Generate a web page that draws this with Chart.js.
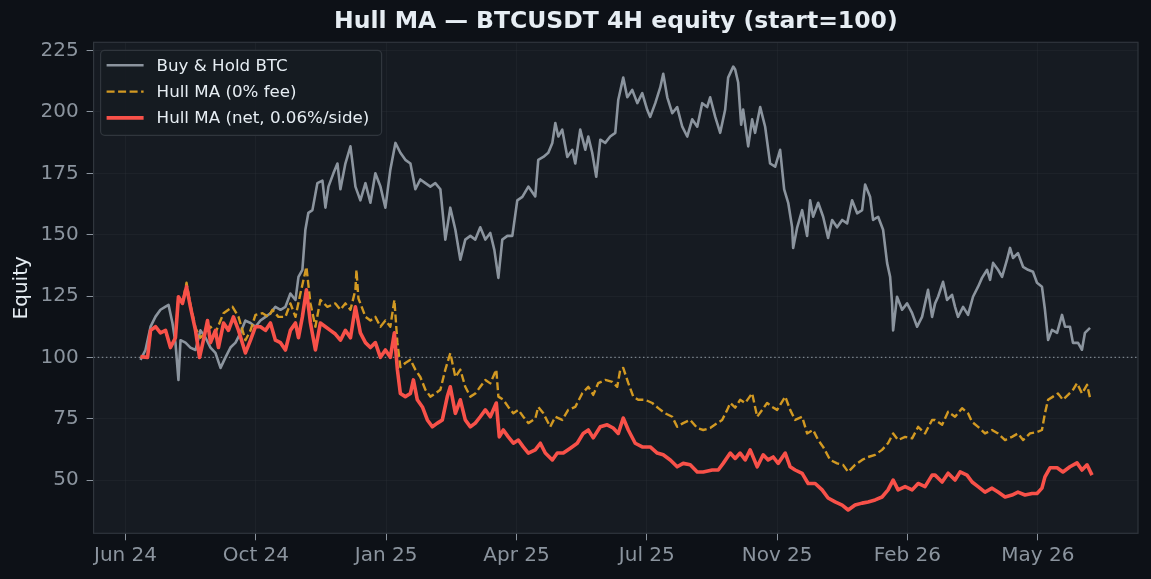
<!DOCTYPE html>
<html>
<head>
<meta charset="utf-8">
<script src="https://cdn.jsdelivr.net/npm/chart.js@4.4.1/dist/chart.umd.min.js"></script>
<style>
  html, body { margin: 0; padding: 0; background: #0d1117; }
  #wrap { width: 1151px; height: 579px; }
</style>
</head>
<body>
<div id="wrap"><canvas id="eq"></canvas></div>
<script>
// days counted from the "Jun 24" tick
const tickDays = [0, 100, 200, 300, 400, 500, 600, 700];
const tickLabels = ["Jun 24", "Oct 24", "Jan 25", "Apr 25", "Jul 25", "Nov 25", "Feb 26", "May 26"];
const yTicks = [50, 75, 100, 125, 150, 175, 200, 225];
const baseline = 100;

const btcDays = [11.5,15.3,19.2,23.0,26.8,30.7,33.0,36.0,38.3,40.6,42.2,46.0,49.8,53.7,57.5,61.4,65.2,69.0,72.9,76.7,80.5,84.4,88.2,92.0,95.9,99.7,103.5,107.4,111.2,115.0,118.9,122.7,126.5,130.4,132.7,135.7,138.0,140.3,143.4,147.2,151.1,153.4,155.7,159.5,162.6,164.9,168.7,172.6,176.4,180.2,184.1,187.9,191.7,195.6,199.4,203.2,207.1,210.9,214.7,218.6,222.4,226.2,230.1,233.9,237.7,241.6,245.4,249.2,253.1,256.9,260.7,264.6,268.4,272.2,276.1,279.9,283.0,286.1,289.1,293.0,296.8,300.6,304.5,309.1,314.4,316.7,320.6,324.4,327.5,329.8,332.1,335.1,339.0,342.8,345.1,348.9,352.8,355.1,358.1,361.2,364.3,368.1,371.9,375.8,378.1,381.9,385.0,388.8,392.7,396.5,400.3,402.6,406.5,410.3,412.6,415.7,419.5,423.3,427.2,431.0,434.8,438.7,442.5,446.3,448.6,452.5,456.3,460.1,462.4,466.3,467.8,470.1,472.4,473.9,477.8,480.8,483.1,487.0,490.8,494.6,498.5,502.3,505.4,508.5,511.5,512.3,515.4,519.2,523.0,525.3,527.6,531.5,535.3,539.1,542.2,546.0,549.9,553.7,557.5,561.4,565.2,567.5,571.3,573.6,577.5,581.3,584.4,586.7,588.2,589.0,592.0,595.9,599.7,603.6,607.4,611.2,615.8,618.9,621.2,623.5,627.3,630.4,634.2,636.5,638.8,642.7,646.5,650.3,654.2,657.2,661.1,663.4,665.7,669.5,672.6,676.4,678.7,681.0,684.8,688.7,692.5,696.3,699.4,703.2,705.5,707.9,710.9,714.8,718.6,720.9,724.7,727.0,730.9,733.9,736.2,740.1];
const btcEquity = [99,103,112.5,116.6,119.4,120.7,121.4,114,106,90.8,107,106,104,103,111,108,104,101.8,95.7,100,104,106,110,115,114,112.5,115,116.5,118,120.6,119.4,120.6,126,123.4,132.8,135.7,152,158.9,160,171,172,161,169.6,175,179,168.5,179,186,169.6,164,171,163,175,169.6,161,176.5,187.4,183.4,180.5,179,168.5,172.5,171,169.6,171,168.5,148,161,152,139.8,148,149.5,148,153,148,150.7,143.8,132.4,148,149.5,149.5,164,165.4,169.6,165.6,180.5,181.7,183.4,187.4,195.5,190,192.8,181.7,184.6,179,192.8,184.6,190,183.4,173.6,188.7,187.4,190,191.5,205,214,206,209,203.6,207.7,200.9,198,203.6,210,215.6,206,199.5,202,194,190,197,194,203.6,202,206,198,191.5,200.9,214,218.5,217.3,212,194.8,201,186,197,191.5,202,194,179,177.7,184.6,168.5,163,153,144.6,153,160,149.5,164,157.3,163,157.3,148.7,156,153,156,154.6,164,158.7,160,170.4,165.5,156,157.3,152,138.4,132.8,122,111,124.7,119.4,122,118,112.5,116.5,127.5,116.5,122,124.7,130.8,123.4,125.5,120.6,116.5,120.6,117.3,124.7,128.8,132.4,135.7,131.6,138.5,135.7,132.8,139.8,144.6,140.5,142.5,136.9,135.7,134.9,130.4,128.8,119.4,107.1,111.2,110,117.3,112.5,112.5,105.9,105.9,103.1,110,112];

const hullDays = [11.5,16.9,19.2,23.0,26.8,30.7,34.5,38.3,40.6,43.7,46.8,49.8,53.7,57.5,61.4,65.2,69.0,75.2,82.1,86.7,92.0,95.9,99.7,105.1,109.7,112.7,117.3,122.7,126.5,130.4,134.2,138.8,141.9,145.7,149.5,154.9,161.0,164.9,168.7,172.6,176.4,177.2,178.7,180.2,184.1,187.9,191.7,195.6,199.4,203.2,206.3,208.6,210.9,214.7,218.6,222.4,226.2,230.1,233.9,237.7,241.6,245.4,249.2,253.1,256.9,260.7,264.6,268.4,272.2,276.1,279.9,284.5,286.1,289.9,293.7,297.6,301.4,305.2,309.1,314.4,316.7,320.6,325.9,329.8,335.1,339.7,345.1,350.5,355.1,358.9,362.7,368.1,373.5,377.3,379.6,381.9,385.8,389.6,393.4,398.8,404.2,408.8,414.1,419.5,423.3,427.9,433.3,438.7,443.3,448.6,454.0,457.8,461.7,464.0,467.8,471.6,475.5,480.8,484.7,488.5,492.3,496.2,500.0,506.2,510.0,513.8,519.2,523.0,527.6,531.5,535.3,540.7,546.0,550.6,554.5,559.8,565.2,569.8,575.2,580.5,585.1,589.0,592.8,598.2,603.6,608.2,613.5,618.9,621.2,626.6,631.2,636.5,641.9,646.5,649.6,654.2,659.5,664.9,669.5,674.9,680.2,684.8,688.7,694.0,699.4,703.2,705.5,707.9,711.7,715.5,719.3,723.2,727.0,730.1,733.9,737.8,740.1];
const hullEquity = [100.3,100,111,112.5,110,111,104,108,124.7,122,130.4,121.5,112,108,110,112.5,110,118,120.6,116.5,107,111,117.3,118,116.5,119.4,116.5,116.5,122,116.5,126,136.9,122,112.5,123.4,120.6,122,119.4,122,119.4,127.5,135.7,124,122,116.5,115,116.5,112.5,115,112.5,123.4,106,96,97.7,99,95,92,86.8,84,85.3,86.8,95,101.7,92,95,88,84,85.3,88,90.8,89.4,95,84,82.7,79.8,77.2,78.6,75.8,73.2,75,79.8,77.2,71.7,75.8,74.5,78.6,79.8,85.4,88,84.7,89.5,90.8,90,88,95,95.7,89.5,84,82.7,82.7,81.4,79.3,77.2,75.8,71.7,73.2,74.5,71.2,70.4,71.2,73.2,74.5,78.6,81.4,79.5,82.7,81.4,85.4,75.8,78.6,81.4,79.8,78.6,84,78.6,74.5,75.8,69,70.4,66.3,63.5,58.2,56.8,56.2,53.3,56.2,58.2,59.4,60.3,62.3,65,69,66.3,67.6,67,71.7,69,74.5,74.5,72.5,77.8,75.8,79.3,77.2,73.7,71.7,69,70.4,69,66.3,67.6,69,66.3,69,69.6,70.4,77.2,82.7,84,85.3,82.7,84.7,86.8,89.5,85.3,88.8,83.5];

const netDays = [11.5,16.9,19.2,23.0,26.8,30.7,34.5,38.3,40.6,43.7,46.8,49.8,53.7,56.8,59.8,62.9,65.2,69.0,71.3,75.2,79.0,82.8,86.7,92.0,95.9,99.7,103.5,107.4,111.2,115.0,118.9,122.7,126.5,130.4,132.7,135.7,138.8,141.9,145.7,149.5,153.4,157.2,161.0,164.9,168.7,172.6,176.4,180.2,184.1,187.9,191.7,195.6,199.4,203.2,206.3,208.6,210.9,214.7,218.6,220.9,223.9,227.8,231.6,235.4,239.3,243.1,246.9,249.2,253.1,256.9,260.7,264.6,268.4,272.2,276.1,279.9,284.5,286.8,289.9,293.7,297.6,301.4,305.2,309.1,314.4,318.3,322.1,327.5,331.3,335.9,341.3,346.6,351.2,355.1,358.9,364.3,369.6,374.2,378.1,381.9,385.8,391.1,396.5,402.6,408.0,412.6,418.0,423.3,427.9,433.3,438.7,443.3,450.2,454.8,458.6,464.0,467.8,471.6,475.5,479.3,484.7,489.3,493.1,497.0,500.8,506.2,510.0,513.8,519.2,523.8,529.2,534.5,539.1,544.5,549.9,554.5,559.8,565.2,569.8,575.2,580.5,585.1,589.0,592.8,598.2,603.6,608.2,613.5,618.9,621.2,626.6,631.2,636.5,640.4,645.7,649.6,654.2,659.5,664.9,669.5,674.9,680.2,684.8,690.2,695.6,699.4,703.2,705.5,709.4,714.8,719.3,724.7,730.1,733.9,737.8,741.6];
const netEquity = [100.3,100,111,112.5,110,111,104,108,124.7,122,128.8,120.6,111,100,107,115,106,111,104,114,111,116.5,111,101.8,107,112.5,112.5,111,114,107,106,103,111,114,108,116.5,127.5,114,103,114,112.5,111,109.5,107,111,108,120.6,110,106,104,106,100,103,100,110,95,85.3,84,85.3,90.8,82.7,79.8,74.5,71.7,73.2,74.5,84,88,77.2,82.7,74.5,71.7,73.2,75.8,78.6,75.8,81.4,67.6,70.4,67.6,65,66.3,63.5,61,62.3,65,61,58.2,61,61,63,65,69,70.4,67.2,71.7,72.5,71.2,69,75.3,70.4,65,63.5,63.5,61,60.3,58.2,55.4,56.8,56.2,53.3,53.3,54.1,54.1,56.8,61,58.8,61,58.2,62.3,55.4,60.3,58.2,59.4,56.8,61,55.4,54.1,52.7,48.6,48.6,46,42.7,41.1,39.8,37.8,39.8,40.6,41.1,41.9,43.1,46,50,46,47.3,46,48.6,47.3,52,52,49.2,52.8,50,53.3,52,49.2,47.3,45.1,46.7,45.1,43.1,43.9,45.1,43.9,44.5,44.5,46.7,51.3,55,55,53.3,55.4,57,54.1,56.2,52];

const pts = (xs, ys) => xs.map((x, i) => ({ x: x, y: ys[i] }));

const series = [
  { label: "Buy & Hold BTC", data: pts(btcDays, btcEquity), color: "#8b949e", width: 2.6, dash: [], order: 3 },
  { label: "Hull MA (0% fee)", data: pts(hullDays, hullEquity), color: "#d29922", width: 2.4, dash: [8, 3.5], order: 2 },
  { label: "Hull MA (net, 0.06%/side)", data: pts(netDays, netEquity), color: "#f85149", width: 3.6, dash: [], order: 1 }
];

const FONT = "'DejaVu Sans', sans-serif";

// plot panel, frame, baseline, title, y label and legend box
const decor = {
  id: "decor",
  beforeDraw(chart) {
    const { ctx, chartArea: a } = chart;
    ctx.save();
    ctx.fillStyle = "#161b22";
    ctx.fillRect(a.left, a.top, a.right - a.left, a.bottom - a.top);
    ctx.restore();
  },
  beforeDatasetsDraw(chart) {
    const { ctx, chartArea: a, scales } = chart;
    const y = scales.y.getPixelForValue(baseline);
    ctx.save();
    ctx.strokeStyle = "rgba(139,148,158,0.85)";
    ctx.lineWidth = 1.2;
    ctx.setLineDash([1.5, 2.6]);
    ctx.beginPath();
    ctx.moveTo(a.left, y);
    ctx.lineTo(a.right, y);
    ctx.stroke();
    ctx.restore();
  },
  afterDraw(chart) {
    const { ctx, chartArea: a } = chart;
    ctx.save();
    ctx.strokeStyle = "#30363d";
    ctx.lineWidth = 1.2;
    ctx.strokeRect(a.left, a.top, a.right - a.left, a.bottom - a.top);

    ctx.fillStyle = "#e6edf3";
    ctx.font = "bold 23.5px " + FONT;
    ctx.textAlign = "center";
    ctx.textBaseline = "middle";
    ctx.fillText("Hull MA \u2014 BTCUSDT 4H equity (start=100)", (a.left + a.right) / 2, 22);

    ctx.font = "20px " + FONT;
    ctx.translate(22, (a.top + a.bottom) / 2);
    ctx.rotate(-Math.PI / 2);
    ctx.fillText("Equity", 0, 0);
    ctx.setTransform(1, 0, 0, 1, 0, 0);
    ctx.scale(chart.currentDevicePixelRatio, chart.currentDevicePixelRatio);

    // legend
    const bx = a.left + 7, by = a.top + 8, bw = 281, bh = 85;
    ctx.fillStyle = "rgba(22,27,34,0.92)";
    ctx.strokeStyle = "#30363d";
    ctx.lineWidth = 1.2;
    ctx.beginPath();
    ctx.roundRect(bx, by, bw, bh, 4);
    ctx.fill();
    ctx.stroke();
    ctx.font = "16.7px " + FONT;
    ctx.textAlign = "left";
    series.forEach((s, i) => {
      const ry = by + 15 + i * 26.3;
      ctx.strokeStyle = s.color;
      ctx.lineWidth = s.width;
      ctx.setLineDash(s.dash);
      ctx.beginPath();
      ctx.moveTo(bx + 6, ry);
      ctx.lineTo(bx + 43, ry);
      ctx.stroke();
      ctx.setLineDash([]);
      ctx.fillStyle = "#e6edf3";
      ctx.fillText(s.label, bx + 56, ry + 1);
    });
    ctx.restore();
  }
};

new Chart(document.getElementById("eq"), {
  type: "line",
  data: {
    datasets: series.map(s => ({
      label: s.label,
      data: s.data,
      borderColor: s.color,
      borderWidth: s.width,
      borderDash: s.dash,
      borderJoinStyle: "round",
      pointRadius: 0,
      tension: 0,
      order: s.order
    }))
  },
  options: {
    responsive: true,
    maintainAspectRatio: false,
    animation: false,
    events: [],
    layout: { padding: { left: 0, right: 13, top: 42.3, bottom: 0 } },
    plugins: { legend: { display: false }, tooltip: { enabled: false }, title: { display: false } },
    scales: {
      x: {
        type: "linear",
        min: -24.5,
        max: 776.9,
        afterBuildTicks: s => { s.ticks = tickDays.map(v => ({ value: v })); },
        afterFit: s => { s.height = 45.7; },
        ticks: {
          color: "#8b949e",
          font: { family: FONT, size: 20 },
          padding: 3,
          maxRotation: 0,
          autoSkip: false,
          callback: v => tickLabels[tickDays.indexOf(v)]
        },
        grid: { color: "rgba(48,54,61,0.3)", tickColor: "#8b949e", tickLength: 7, lineWidth: 1 },
        border: { display: false }
      },
      y: {
        min: 28.3,
        max: 228.4,
        afterBuildTicks: s => { s.ticks = yTicks.map(v => ({ value: v })); },
        afterFit: s => { s.width = 93.6; },
        ticks: {
          color: "#8b949e",
          font: { family: FONT, size: 20 },
          padding: 8
        },
        grid: { color: "rgba(48,54,61,0.3)", tickColor: "#8b949e", tickLength: 7, lineWidth: 1 },
        border: { display: false }
      }
    }
  },
  plugins: [decor]
});
</script>
</body>
</html>
